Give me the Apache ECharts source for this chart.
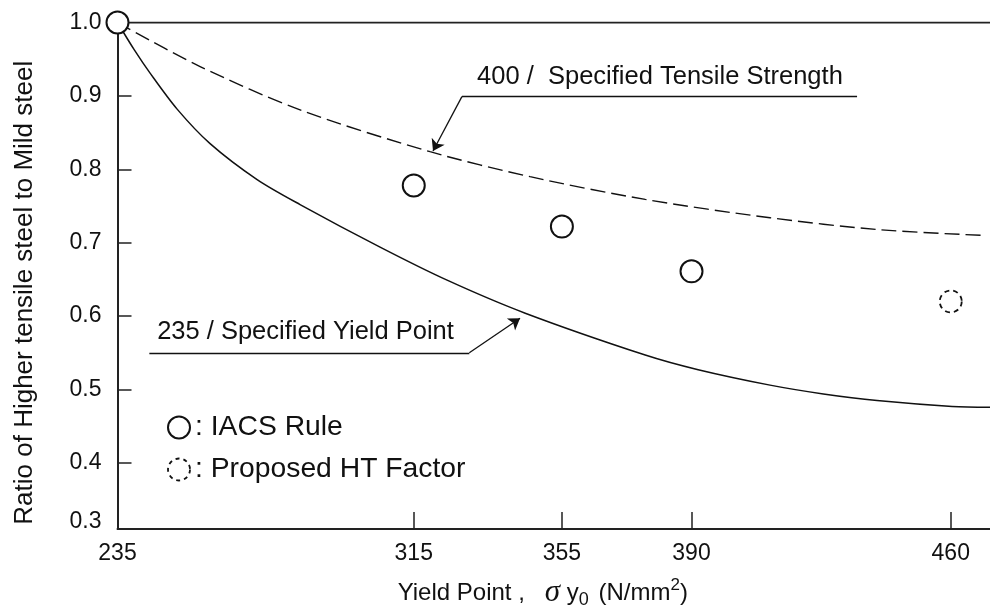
<!DOCTYPE html>
<html>
<head>
<meta charset="utf-8">
<script src="https://cdn.jsdelivr.net/npm/echarts@6/dist/echarts.min.js"></script>
<style>
  html, body { margin: 0; padding: 0; background: #fff; }
  #chart { width: 990px; height: 614px; }
</style>
</head>
<body>
<div id="chart"></div>
<script>
const FONT = "'Liberation Sans', Arial, Helvetica, sans-serif";
const INK = "#111";

// axis ticks
const xTickValues = [235, 315, 355, 390, 460];
const yTickValues = [0.3, 0.4, 0.5, 0.6, 0.7, 0.8, 0.9, 1.0];
const X_MIN = 235, X_MAX = 470.6;
const Y_MIN = 0.31, Y_MAX = 1.0;

// circles
const iacsRule = [[235, 1.0], [315, 0.778], [355, 0.722], [390, 0.661]];
const proposedHT = [[460, 0.620]];

// mild steel level
const mildSteel = [[235, 1.0], [470.6, 1.0]];

// 235 / specified yield point (solid)
const yieldCurve = [
  [235, 1.0], [239.5, 0.963], [243.8, 0.931], [251.1, 0.882], [260.0, 0.835],
  [272.7, 0.786], [284.3, 0.752], [305.9, 0.694], [324.0, 0.649], [345.1, 0.604],
  [377.5, 0.547], [391.8, 0.527], [411.2, 0.506], [425.6, 0.494],
  [440.1, 0.485], [460.4, 0.477], [470.6, 0.476],
];

// 400 / specified tensile strength (dashed)
const tensileCurve = [
  [235, 1.0], [257.3, 0.940], [284.3, 0.881], [319.4, 0.824],
  [346.4, 0.790], [377.5, 0.759], [411.2, 0.734], [440.1, 0.718], [468.5, 0.710],
];

// leader lines and their captions (data space)
const tensileLeader = [[434.7, 0.899], [328.0, 0.899], [320.2, 0.825]];
const yieldLeader = [[243.6, 0.550], [330.0, 0.550], [343.7, 0.597]];
const notes = [
  { text: "400 /  Specified Tensile Strength", at: [332.1, 0.926] },
  { text: "235 / Specified Yield Point", at: [245.7, 0.578] },
];

const leaders = [tensileLeader, yieldLeader];

const chart = echarts.init(document.getElementById("chart"), null, { renderer: "canvas" });

const option = {
  animation: false,
  backgroundColor: "#fff",
  textStyle: { fontFamily: FONT, color: INK },
  grid: { left: 117.5, right: 0, top: 22.5, bottom: 84, containLabel: false },
  legend: {
    data: [
      { name: "IACS Rule" },
      { name: "Proposed HT Factor", itemStyle: { borderType: [4, 4], borderWidth: 1.8 } },
    ],
    orient: "vertical",
    left: 162,
    top: 407,
    itemWidth: 22,
    itemHeight: 22,
    itemGap: 11,
    selectedMode: false,
    formatter: (name) => ": " + name,
    textStyle: { fontFamily: FONT, fontSize: 28.3, color: INK, lineHeight: 31 },
  },
  xAxis: {
    type: "value",
    min: X_MIN,
    max: X_MAX,
    splitLine: { show: false },
    axisLine: { onZero: false, lineStyle: { color: "#222", width: 2 } },
    axisTick: {
      inside: true,
      length: 17,
      customValues: xTickValues.slice(1),
      lineStyle: { color: "#222", width: 1.5 },
    },
    axisLabel: {
      customValues: xTickValues,
      margin: 13,
      fontSize: 23,
      color: INK,
      fontFamily: FONT,
    },
    name: "{t|Yield Point ,   }{s|σ}{t| y}{sub|0}{t| (N/mm}{sup|2}{t|)}",
    nameLocation: "middle",
    nameGap: 48,
    nameTextStyle: {
      padding: [0, 22, 0, 0],
      rich: {
        t: { fontSize: 24, fontFamily: FONT, color: INK, lineHeight: 32 },
        s: { fontSize: 31, fontFamily: "'Liberation Serif', 'DejaVu Serif', serif", fontStyle: "italic", color: INK, lineHeight: 32 },
        sub: { fontSize: 18, fontFamily: FONT, color: INK, lineHeight: 32, verticalAlign: "bottom", padding: [0, 3, 0, 0] },
        sup: { fontSize: 17, fontFamily: FONT, color: INK, lineHeight: 32, verticalAlign: "top" },
      },
    },
  },
  yAxis: {
    type: "value",
    min: Y_MIN,
    max: Y_MAX,
    splitLine: { show: false },
    axisLine: { onZero: false, lineStyle: { color: "#222", width: 2 } },
    axisTick: {
      inside: true,
      length: 14,
      customValues: yTickValues.slice(1, -1),
      lineStyle: { color: "#222", width: 1.5 },
    },
    axisLabel: {
      // the 0.3 label sits just above the x axis line
      customValues: yTickValues.map((v) => Math.max(v, Y_MIN + 0.01)),
      formatter: (v) => v.toFixed(1),
      margin: 16,
      fontSize: 23,
      color: INK,
      fontFamily: FONT,
    },
    name: "Ratio of Higher tensile steel to Mild steel",
    nameLocation: "middle",
    nameGap: 80,
    nameTextStyle: { fontSize: 26, color: INK, fontFamily: FONT, padding: [0, 34, 0, 0] },
  },
  series: [
    {
      name: "Mild steel",
      type: "line",
      data: mildSteel,
      symbol: "none",
      silent: true,
      lineStyle: { color: "#222", width: 2 },
    },
    {
      name: "235 / Specified Yield Point",
      type: "line",
      data: yieldCurve,
      symbol: "none",
      smooth: 0.3,
      silent: true,
      lineStyle: { color: INK, width: 1.5 },
    },
    {
      name: "400 / Specified Tensile Strength",
      type: "line",
      data: tensileCurve,
      symbol: "none",
      smooth: 0.3,
      silent: true,
      lineStyle: { color: INK, width: 1.4, type: [15, 6] },
    },
    {
      name: "underlines",
      type: "lines",
      coordinateSystem: "cartesian2d",
      silent: true,
      symbol: "none",
      lineStyle: { color: INK, width: 1.3, opacity: 1, curveness: 0 },
      data: leaders.map((p) => ({ coords: [p[0], p[1]] })),
    },
    {
      name: "arrows",
      type: "lines",
      coordinateSystem: "cartesian2d",
      silent: true,
      symbol: ["none", "arrow"],
      symbolSize: 11,
      lineStyle: { color: INK, width: 1.3, opacity: 1, curveness: 0 },
      data: leaders.map((p) => ({ coords: [p[1], p[2]] })),
    },
    {
      name: "notes",
      type: "scatter",
      symbolSize: 0,
      silent: true,
      itemStyle: { opacity: 1 },
      data: notes.map((n) => ({ value: n.at, text: n.text })),
      label: {
        show: true,
        position: [0, 0],
        align: "left",
        verticalAlign: "middle",
        fontSize: 25.5,
        fontFamily: FONT,
        color: INK,
        formatter: (p) => p.data.text,
      },
    },
    {
      name: "IACS Rule",
      type: "scatter",
      data: iacsRule,
      symbol: "circle",
      symbolSize: 22,
      silent: true,
      itemStyle: { color: "#fff", borderColor: INK, borderWidth: 2, opacity: 1 },
      z: 5,
    },
    {
      name: "Proposed HT Factor",
      type: "scatter",
      data: proposedHT,
      symbol: "circle",
      symbolSize: 22,
      silent: true,
      itemStyle: { color: "#fff", borderColor: INK, borderWidth: 1.8, borderType: [5, 4], opacity: 1 },
      z: 5,
    },
  ],
};

chart.setOption(option);
</script>
</body>
</html>
